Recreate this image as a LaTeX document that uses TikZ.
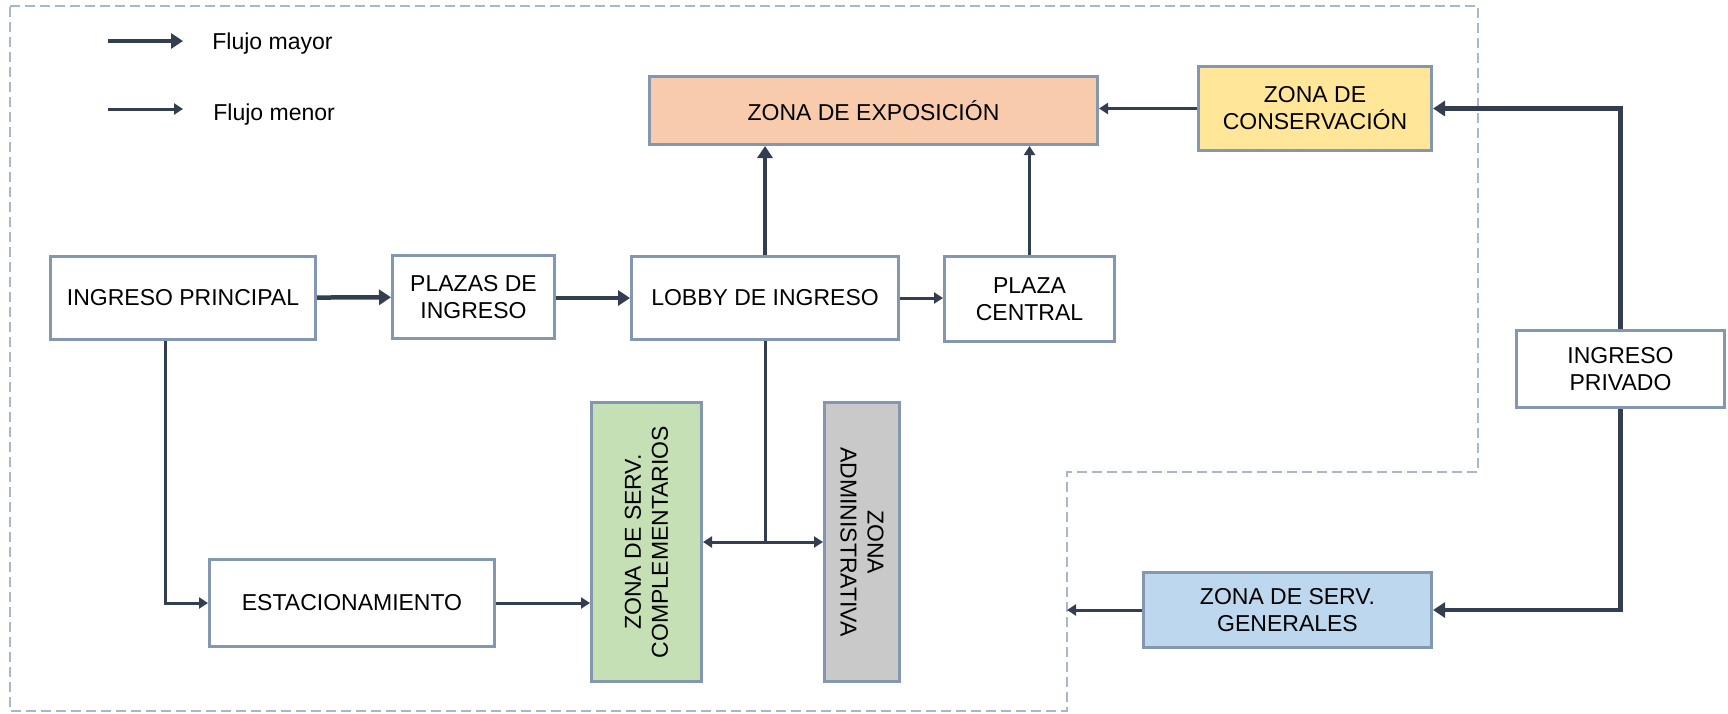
\documentclass[tikz,border=0pt]{standalone}
\usepackage{fontspec}
\setmainfont{Liberation Sans}
\usetikzlibrary{arrows.meta}
\definecolor{zoneline}{HTML}{8497B0}
\definecolor{flowline}{HTML}{333F50}
\definecolor{fenceline}{HTML}{A9B7CB}
\definecolor{expofill}{HTML}{F8CBAD}
\definecolor{consfill}{HTML}{FFE699}
\definecolor{compfill}{HTML}{C5E0B4}
\definecolor{adminfill}{HTML}{C9C9C9}
\definecolor{genfill}{HTML}{BDD7EE}

\begin{document}
\begin{tikzpicture}[x=0.5pt,y=-0.5pt,
  zone/.style={draw=zoneline,line width=1.5pt,fill=white,align=center,inner sep=0pt,
    font=\fontsize{11.5}{13.5}\selectfont},
  zonetext/.style={align=center,inner sep=0pt,font=\fontsize{11.5}{13.5}\selectfont},
  major/.style={draw=flowline,line width=2.25pt,-{Triangle[length=6pt,width=7.5pt]}},
  minor/.style={draw=flowline,line width=1.5pt,-{Triangle[length=4.5pt,width=5.5pt]}},
  fence/.style={draw=fenceline,line width=0.6pt,dash pattern=on 5pt off 2.5pt}]
\useasboundingbox (0,0) rectangle (1728,713);
% Public area boundary
\draw[fence] (10,6) -- (1478,6) -- (1478,472) -- (1067,472) -- (1067,711) -- (10,711) -- cycle;
% Legend
\coordinate (bigfrom) at (108,41);
\coordinate (bigto) at (183,41);
\coordinate (smallfrom) at (108,109);
\coordinate (smallto) at (183,109);
\draw[major] (bigfrom) -- (bigto);
\draw[minor] (smallfrom) -- (smallto);
\node[zonetext,anchor=west] (bignote) at (212,44) {Flujo mayor};
\node[zonetext,anchor=west] (smallnote) at (213,115) {Flujo menor};
% Drawing zones
\node[zone,minimum width=132.5pt,minimum height=41.5pt] (ingreso) at (183,298) {INGRESO PRINCIPAL};
\node[zone,minimum width=81pt,minimum height=41.5pt] (plazas) at (473.5,297) {PLAZAS DE\\INGRESO};
\node[zone,minimum width=133.5pt,minimum height=41.5pt] (lobby) at (765,298) {LOBBY DE INGRESO};
\node[zone,minimum width=85pt,minimum height=42.5pt] (central) at (1029.5,299) {PLAZA\\CENTRAL};
\node[zone,fill=expofill,minimum width=224pt,minimum height=34pt] (expo) at (873.5,110.5) {ZONA DE EXPOSICIÓN};
\node[zone,fill=consfill,minimum width=116.5pt,minimum height=42pt] (cons) at (1315,108.5) {ZONA DE\\CONSERVACIÓN};
\node[zone,minimum width=104pt,minimum height=38.5pt] (privado) at (1620.5,369) {INGRESO\\PRIVADO};
\node[zone,fill=genfill,minimum width=144pt,minimum height=37.5pt] (generales) at (1287.5,610) {ZONA DE SERV.\\GENERALES};
\node[zone,minimum width=142.5pt,minimum height=43.5pt] (estac) at (352,603) {ESTACIONAMIENTO};
\node[zone,fill=compfill,minimum width=55pt,minimum height=139.5pt] (comp) at (646.5,542) {};
\node[zonetext,rotate=90] (comptext) at (comp) {ZONA DE SERV.\\COMPLEMENTARIOS};
\node[zone,fill=adminfill,minimum width=37.5pt,minimum height=139.5pt] (admin) at (862,542) {};
\node[zonetext,rotate=-90] (admintext) at (admin) {ZONA\\ADMINISTRATIVA};
% Done with zones; drawing flows
\draw[major] (ingreso) -- (plazas);
\draw[major] (plazas.east |- lobby) -- (lobby);
\draw[major] (lobby) -- (expo.south -| lobby);
\draw[minor] (lobby) -- (central.west |- lobby);
\draw[minor] (central) -- (expo.south -| central);
\draw[minor] (cons) -- (expo.east |- cons);
\draw[major] (privado) |- (cons);
\draw[major] (privado) |- (generales);
\coordinate (outgate) at (1067,610);
\draw[minor] (generales) -- (outgate);
\draw[minor] ([xshift=-9pt]ingreso.south) |- (estac);
\draw[minor] (estac) -- (comp.west |- estac);
\coordinate (split) at (lobby.south |- comp.east);
\draw[draw=flowline,line width=1.5pt] (lobby) -- (split);
\draw[minor,{Triangle[length=4.5pt,width=5.5pt]}-{Triangle[length=4.5pt,width=5.5pt]}] (comp) -- (admin);
% Done with flows
\end{tikzpicture}
\end{document}
